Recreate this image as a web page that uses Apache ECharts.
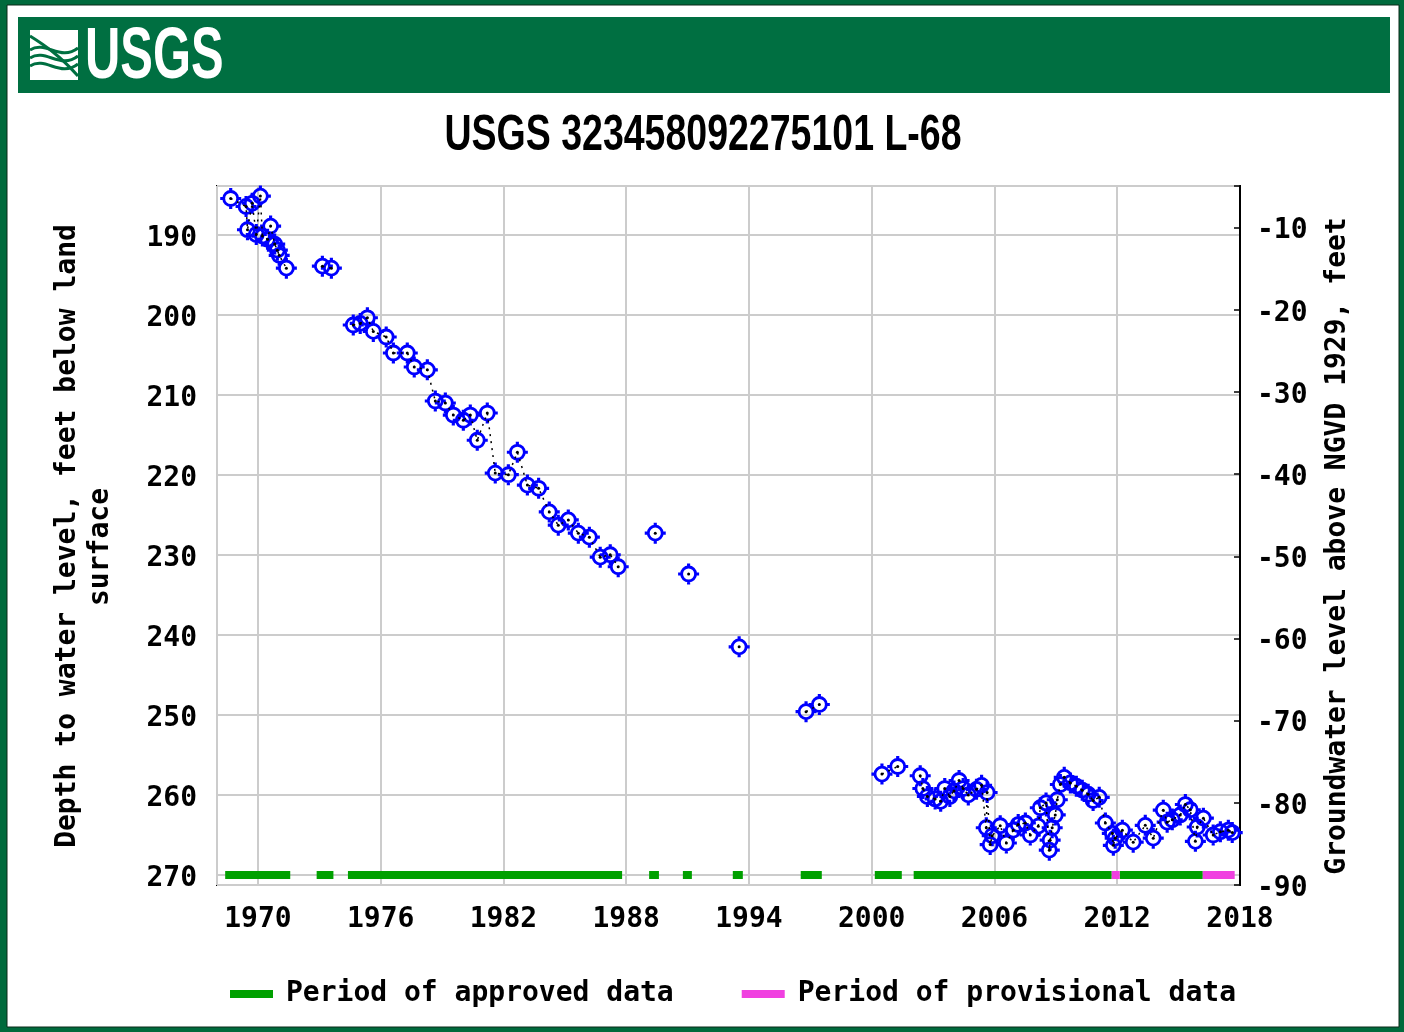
<!DOCTYPE html>
<html><head><meta charset="utf-8">
<script src="https://cdn.jsdelivr.net/npm/echarts@6/dist/echarts.min.js"></script>
<style>html,body{margin:0;padding:0;background:#fff}#c{width:1404px;height:1032px}</style>
</head><body><div id="c"></div>
<script>
const chartTitle = 'USGS 323458092275101 L-68';
const leftAxisName1 = 'Depth to water level, feet below land';
const leftAxisName2 = 'surface';
const rightAxisName = 'Groundwater level above NGVD 1929, feet';
const yearTickLabels = [1970, 1976, 1982, 1988, 1994, 2000, 2006, 2012, 2018];
const depthTickLabels = [190, 200, 210, 220, 230, 240, 250, 260, 270];
const elevTickLabels = [-10, -20, -30, -40, -50, -60, -70, -80, -90];

// measurement dates (decimal years) and depths (ft below land surface)
const years = [
  1968.67, 1969.42, 1969.72, 1970.12, 1969.49, 1969.92, 1970.22, 1970.62, 1970.47, 1970.82,
  1970.95, 1971.04, 1971.39, 1973.15, 1973.59, 1974.66, 1975.00, 1975.35, 1975.64, 1976.27,
  1976.62, 1977.30, 1977.64, 1978.28, 1978.67, 1979.16, 1979.55, 1980.04, 1980.38, 1981.21,
  1980.72, 1982.68, 1981.60, 1982.24, 1983.17, 1983.72, 1984.24, 1984.68, 1985.17, 1985.66,
  1986.20, 1986.73, 1987.22, 1987.61, 1989.42, 1991.05, 1993.52, 1996.79, 1997.44, 2000.50,
  2001.27, 2002.37, 2002.50, 2002.72, 2003.10, 2003.37, 2003.57, 2003.82, 2004.02, 2004.27,
  2004.47, 2004.72, 2005.12, 2005.37, 2005.64, 2005.60, 2005.79, 2005.89, 2006.28, 2006.58,
  2006.92, 2007.16, 2007.51, 2007.75, 2008.14, 2008.24, 2008.52, 2008.68, 2008.72, 2008.82,
  2008.97, 2009.07, 2009.22, 2009.41, 2009.71, 2010.00, 2010.29, 2010.58, 2010.82, 2011.12,
  2011.42, 2011.76, 2011.90, 2011.81, 2012.25, 2012.78, 2013.37, 2013.76, 2014.25, 2014.44,
  2014.69, 2015.08, 2015.33, 2015.57, 2015.82, 2015.91, 2016.21, 2016.69, 2017.04, 2017.43,
  2017.62
];
const depths = [
  185.5, 186.5, 186.1, 185.2, 189.4, 190.0, 190.2, 188.95, 190.6, 191.2,
  191.95, 192.6, 194.2, 193.95, 194.2, 201.3, 201.1, 200.4, 202.1, 202.8,
  204.8, 204.8, 206.55, 206.9, 210.8, 211.05, 212.55, 213.2, 212.55, 212.3,
  215.7, 217.2, 219.8, 220.0, 221.3, 221.7, 224.65, 226.3, 225.65, 227.3,
  227.8, 230.3, 230.0, 231.5, 227.3, 232.4, 241.5, 249.6, 248.7, 257.4,
  256.45, 257.6, 259.2, 260.2, 260.5, 260.8, 259.2, 260.2, 259.5, 258.2,
  259.2, 260.0, 259.3, 258.8, 259.7, 264.1, 266.2, 265.1, 263.85, 266.0,
  264.4, 263.7, 263.5, 265.0, 263.9, 261.6, 261.0, 266.9, 265.65, 264.1,
  262.5, 260.6, 258.7, 257.8, 258.5, 258.9, 259.4, 259.9, 260.7, 260.3,
  263.5, 264.8, 265.4, 266.3, 264.4, 265.9, 263.8, 265.4, 261.9, 263.4,
  263.1, 262.5, 261.2, 261.85, 265.8, 264.0, 262.9, 265.0, 264.6, 264.4,
  264.7
];

const approvedStart = [1968.40, 1972.87, 1974.40, 1989.12, 1990.77, 1993.21, 1996.53, 2000.15, 2002.05, 2012.12];
const approvedEnd   = [1971.58, 1973.69, 1987.80, 1989.60, 1991.21, 1993.70, 1997.56, 2001.47, 2011.73, 2016.18];
const provisionalStart = [2011.73, 2016.18];
const provisionalEnd   = [2012.12, 2017.74];
const periodBarDepth = 270;

const BASE_YEAR = 1970;
const GREEN = '#00a000', PINK = '#f040e0', BLUE = '#0000ff', USGS_GREEN = '#006f41';
const MONO = "'DejaVu Sans Mono', monospace";
const SANS = "'Liberation Sans', Arial, sans-serif";
const FS = 28;

// ring marker with small bumps (hollow via opposite winding)
const ringPath = 'path://M2 10A8 8 0 1 1 18 10A8 8 0 1 1 2 10Z' +
  'M4.7 10A5.3 5.3 0 1 0 15.3 10A5.3 5.3 0 1 0 4.7 10Z' +
  'M8.5 0h3v3h-3Z M8.5 17h3v3h-3Z M0 8.5h3v3h-3Z M17 8.5h3v3h-3Z';

const pts = years.map((y, i) => [y - BASE_YEAR, depths[i]]);
const sorted = pts.slice().sort((a, b) => a[0] - b[0]);
const lineData = [];
sorted.forEach((p, i) => {
  if (i > 0 && p[0] - sorted[i - 1][0] > 1.0) lineData.push([(p[0] + sorted[i - 1][0]) / 2, null]);
  lineData.push(p);
});

function barSeries(name, starts, ends, color) {
  return {
    type: 'custom', name: name, xAxisIndex: 0, yAxisIndex: 0,
    itemStyle: { color: color }, z: 3,
    data: starts.map((s, i) => [s - BASE_YEAR, ends[i] - BASE_YEAR, periodBarDepth]),
    encode: { x: [0, 1], y: 2 },
    renderItem: function (params, api) {
      const a = api.coord([api.value(0), api.value(2)]);
      const b = api.coord([api.value(1), api.value(2)]);
      return { type: 'rect', shape: { x: a[0], y: a[1] - 4, width: b[0] - a[0], height: 8 }, style: { fill: color } };
    }
  };
}

function wave(y1, y2, c1, c2) {
  return { type: 'bezierCurve', z: -6, shape: { x1: 30, y1: y1, x2: 78, y2: y2, cpx1: 46, cpy1: c1, cpx2: 60, cpy2: c2 },
    style: { fill: null, stroke: USGS_GREEN, lineWidth: 3 } };
}
function vtext(txt, cx, cy) {
  return { type: 'text', z: 10, x: cx, y: cy, rotation: Math.PI / 2,
    style: { text: txt, fill: '#000', font: 'bold ' + FS + 'px ' + MONO, textAlign: 'center', textVerticalAlign: 'middle' } };
}
function labelRich(padTop) {
  return { d: { fontFamily: MONO, fontWeight: 'bold', fontSize: FS, color: '#000', padding: [padTop, 0, 0, 0] } };
}

const chart = echarts.init(document.getElementById('c'), null, { renderer: 'canvas' });
chart.setOption({
  backgroundColor: '#ffffff',
  animation: false,
  graphic: [
    { type: 'rect', z: -10, shape: { x: 0, y: 0, width: 1404, height: 1032 }, style: { fill: '#006a3c' } },
    { type: 'rect', z: -9, shape: { x: 7, y: 5, width: 1392, height: 1022 }, style: { fill: '#ffffff', stroke: '#0a2a18', lineWidth: 1 } },
    { type: 'rect', z: -8, shape: { x: 18, y: 17, width: 1372, height: 76 }, style: { fill: USGS_GREEN } },
    { type: 'rect', z: -7, shape: { x: 30, y: 30, width: 48, height: 50 }, style: { fill: '#ffffff' } },
    wave(50, 48, 40, 62),
    wave(58, 56, 48, 70),
    wave(66, 64, 56, 78),
    wave(36, 76, 46, 56),
    { type: 'text', z: -5, x: 85, y: 21, scaleX: 0.67, scaleY: 1,
      style: { text: 'USGS', fill: '#ffffff', font: 'bold 73px ' + SANS, textAlign: 'left', textVerticalAlign: 'top' } },
    { type: 'text', z: 10, x: 703, y: 111, scaleX: 0.75, scaleY: 1,
      style: { text: chartTitle, fill: '#000000', font: 'bold 50px ' + SANS, textAlign: 'center', textVerticalAlign: 'top' } },
    vtext(leftAxisName1, 68, 536),
    vtext(leftAxisName2, 101, 547),
    vtext(rightAxisName, 1338, 546)
  ],
  grid: { left: 217, right: 164, top: 186, bottom: 147, show: true, borderColor: '#000', borderWidth: 2, backgroundColor: 'transparent' },
  legend: {
    left: 230, top: 980, padding: 0, itemWidth: 43, itemHeight: 8, itemGap: 68, icon: 'rect',
    data: ['Period of approved data', 'Period of provisional data'],
    textStyle: { fontFamily: MONO, fontWeight: 'bold', fontSize: FS, color: '#000', padding: [0, 0, 0, 8] }
  },
  xAxis: {
    type: 'value', min: -2, max: 48, minInterval: 6, maxInterval: 6, splitNumber: 8,
    axisLine: { show: false },
    axisTick: { show: false },
    splitLine: { show: true, lineStyle: { color: '#cccccc', width: 2 } },
    axisLabel: {
      margin: 21, fontFamily: MONO, fontWeight: 'bold', fontSize: FS, color: '#000',
      formatter: v => { const y = Math.round(v + BASE_YEAR); return (Math.abs(v + BASE_YEAR - y) < 1e-6 && yearTickLabels.includes(y)) ? String(y) : ''; }
    }
  },
  yAxis: [
    {
      type: 'value', inverse: true, min: 183.94, max: 271.25, minInterval: 10, maxInterval: 10, splitNumber: 9,
      axisLine: { show: false },
      axisTick: { show: false },
      splitLine: { show: true, lineStyle: { color: '#cccccc', width: 2 } },
      axisLabel: {
        margin: 20, color: '#000', rich: labelRich(8),
        formatter: v => { const r = Math.round(v); return (Math.abs(v - r) < 1e-6 && depthTickLabels.includes(r)) ? '{d|' + r + '}' : ''; }
      }
    },
    {
      type: 'value', position: 'right', min: -90, max: -4.93, minInterval: 10, maxInterval: 10, splitNumber: 9,
      axisLine: { show: true, lineStyle: { color: '#000', width: 2 } },
      axisTick: { show: true, inside: true, length: 6, lineStyle: { color: '#000', width: 1.5 } },
      splitLine: { show: false },
      axisLabel: {
        margin: 17, color: '#000', rich: labelRich(7),
        formatter: v => { const r = Math.round(v); return (Math.abs(v - r) < 1e-6 && elevTickLabels.includes(r)) ? '{d|' + r + '}' : ''; }
      }
    }
  ],
  series: [
    barSeries('Period of approved data', approvedStart, approvedEnd, GREEN),
    barSeries('Period of provisional data', provisionalStart, provisionalEnd, PINK),
    {
      type: 'scatter', name: 'Depth', xAxisIndex: 0, yAxisIndex: 0, z: 4,
      symbol: ringPath, symbolSize: 21, symbolKeepAspect: true,
      itemStyle: { color: BLUE, opacity: 1 },
      data: pts
    },
    {
      type: 'line', name: 'Connect', xAxisIndex: 0, yAxisIndex: 0, z: 5,
      connectNulls: false, showAllSymbol: true, symbol: 'circle', symbolSize: 3,
      itemStyle: { color: '#000' },
      lineStyle: { color: '#000', width: 1.5, type: [2, 5] },
      data: lineData
    }
  ]
});
</script></body></html>
